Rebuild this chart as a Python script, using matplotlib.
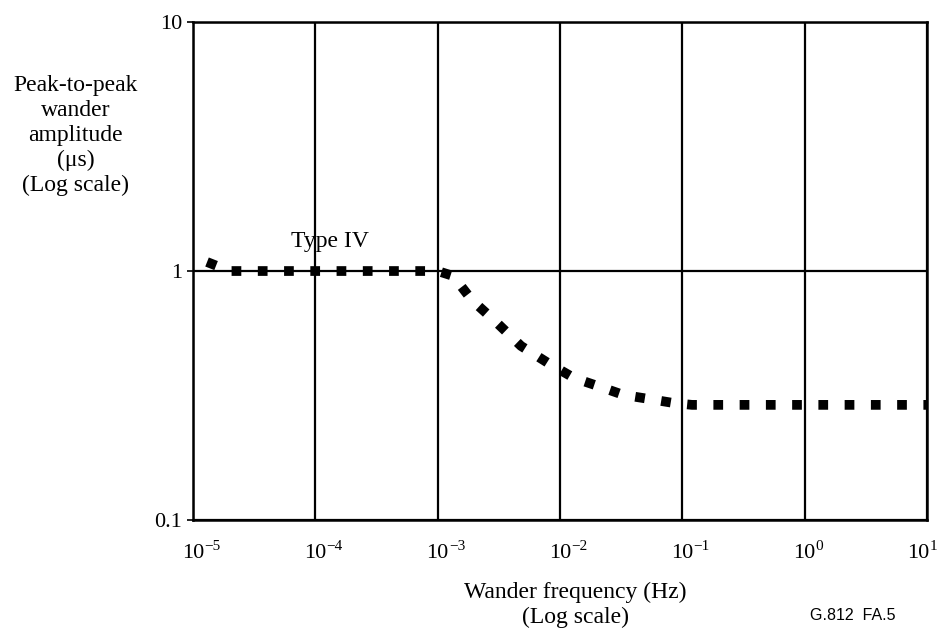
import numpy as np
import matplotlib.pyplot as plt
from matplotlib.ticker import FixedLocator, NullLocator, NullFormatter

# wander curve
freq = [1.3e-5, 2.0e-5, 5e-5, 1e-4, 3e-4, 1.0e-3, 1.34e-3, 1.9e-3, 3.0e-3,
        4.8e-3, 8.0e-3, 1.3e-2, 2.05e-2, 3.3e-2, 5.4e-2, 8.5e-2, 0.12, 1.0, 10.0]
ampl = [1.087, 1.0, 1.0, 1.0, 1.0, 1.0, 0.955, 0.765, 0.624,
        0.5, 0.427, 0.372, 0.345, 0.318, 0.306, 0.295, 0.29, 0.29, 0.29]

x_exponents = [-5, -4, -3, -2, -1, 0, 1]
yticks = [0.1, 1, 10]
ytick_labels = ["0.1", "1", "10"]

plt.rcParams['font.family'] = ['Liberation Serif', 'DejaVu Serif']

fig = plt.figure(figsize=(9.42, 6.3), dpi=100)
ax = fig.add_axes([0.205, 0.1746, 0.779, 0.7904])

ax.set_xscale('log')
ax.set_yscale('log')
ax.set_xlim(1e-5, 10)
ax.set_ylim(0.1, 10)

line, = ax.plot(freq, ampl, color='black', lw=7, zorder=3)
line.set_dashes((1.0, 1.7))
line.set_dash_capstyle('butt')

ax.xaxis.set_major_locator(FixedLocator([10.0 ** e for e in x_exponents]))
ax.xaxis.set_minor_locator(NullLocator())
ax.xaxis.set_major_formatter(NullFormatter())
ax.yaxis.set_minor_locator(NullLocator())
ax.yaxis.set_major_locator(FixedLocator(yticks))
ax.set_yticklabels(ytick_labels)
ax.grid(True, which='major', color='black', lw=1.6)
ax.tick_params(axis='y', which='major', length=4, width=1.2, labelsize=16, pad=4)
ax.tick_params(axis='x', which='major', length=0)
for s in ax.spines.values():
    s.set_linewidth(1.8)

# x tick labels: "10" centred on the grid line, exponent raised to its right
for e in x_exponents:
    xv = 10.0 ** e
    shift = -6 if e == x_exponents[-1] else 0  # keep the last one inside
    ax.annotate("10", xy=(xv, 0), xycoords=('data', 'axes fraction'),
                xytext=(shift, -27), textcoords='offset points',
                ha='center', va='baseline', fontsize=16)
    sup = ("\u2212" + str(-e)) if e < 0 else str(e)
    ax.annotate(sup, xy=(xv, 0), xycoords=('data', 'axes fraction'),
                xytext=(shift + 8, -21.5), textcoords='offset points',
                ha='left', va='baseline', fontsize=11)

ax.text(1.32e-4, 1.32, "Type IV", fontsize=17, ha='center', va='center')

fig.text(0.08, 0.785, "Peak-to-peak\nwander\namplitude\n(\u03bcs)\n(Log scale)",
         ha='center', va='center', fontsize=17, linespacing=1.25)
fig.text(0.611, 0.04, "Wander frequency (Hz)\n(Log scale)",
         ha='center', va='center', fontsize=17, linespacing=1.25)
fig.text(0.905, 0.011, "G.812  FA.5", ha='center', va='bottom', fontsize=11.5,
         family='Liberation Sans')

fig.savefig("out.png", dpi=100)
